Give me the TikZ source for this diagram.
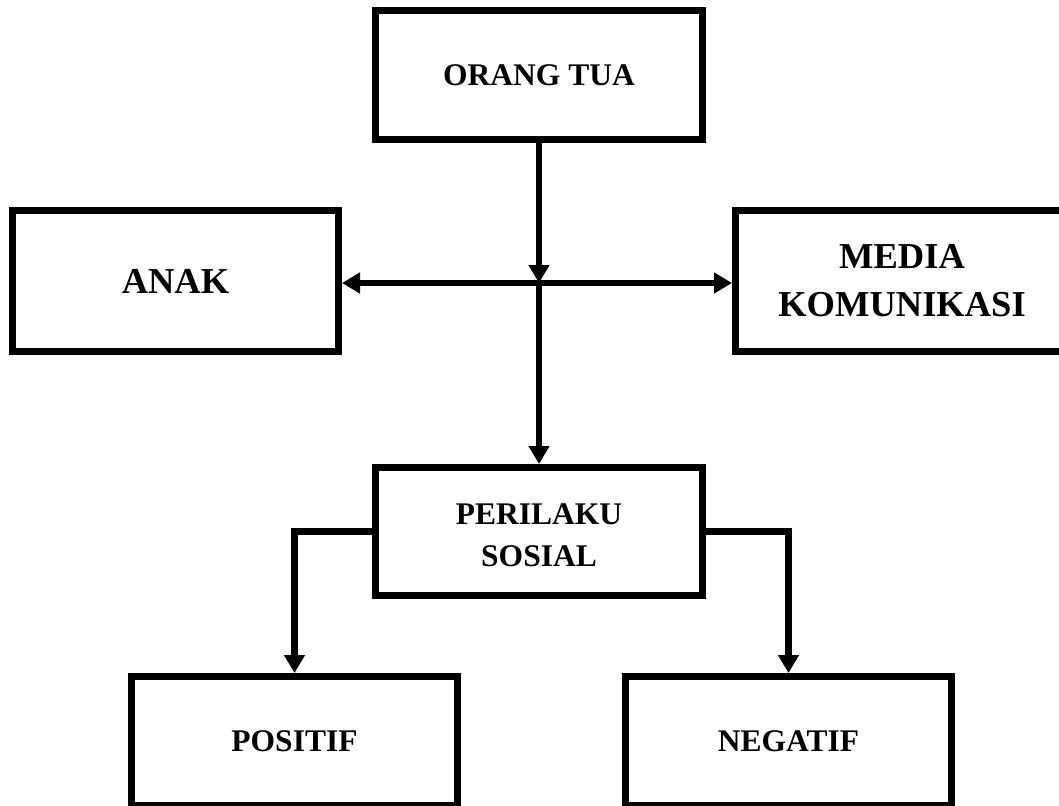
\documentclass[tikz,border=0pt]{standalone}
\usepackage{fontspec}
\setmainfont{Liberation Serif}
\usetikzlibrary{arrows.meta,calc}
\begin{document}
\begin{tikzpicture}[x=1pt,y=-1pt,
  box/.style={draw=black,line width=7pt,fill=white,inner sep=0pt,align=center,font=\bfseries\fontsize{31.5}{42}\selectfont},
  bigbox/.style={box,font=\bfseries\fontsize{36.5}{48}\selectfont},
  conn/.style={draw=black,line width=6.5pt,line join=miter},
  arr/.style={conn,-{Triangle[width=20pt,length=18pt]}},
  darr/.style={conn,{Triangle[width=20pt,length=18pt]}-{Triangle[width=20pt,length=18pt]}}]
\clip (0,0) rectangle (1059,805);
\fill[white] (0,0) rectangle (1059,805);
\node[box,minimum width=327pt,minimum height=129pt] (ot) at (539,75) {ORANG TUA};
\node[bigbox,minimum width=326pt,minimum height=141pt] (anak) at (175.5,281) {ANAK};
\node[bigbox,minimum width=333pt,minimum height=141pt] (media) at (902,281) {MEDIA\\KOMUNIKASI};
\node[box,minimum width=327pt,minimum height=128pt] (per) at (539,531.5) {\raisebox{-12pt}[0pt][0pt]{\begin{tabular}{@{}c@{}}PERILAKU\\[-0.5pt]SOSIAL\end{tabular}}};
\node[box,minimum width=326pt,minimum height=129pt] (pos) at (294.5,741) {POSITIF};
\node[box,minimum width=326pt,minimum height=129pt] (neg) at (788.5,741) {NEGATIF};
\coordinate (j) at (539,283);
\draw[darr] (anak.east |- j) -- (media.west |- j);
\draw[arr] (ot.south) -- (j);
\draw[arr] (j) -- (per.north);
\draw[arr] (per.west) -| (pos.north);
\draw[arr] (per.east) -| (neg.north);
\end{tikzpicture}
\end{document}
